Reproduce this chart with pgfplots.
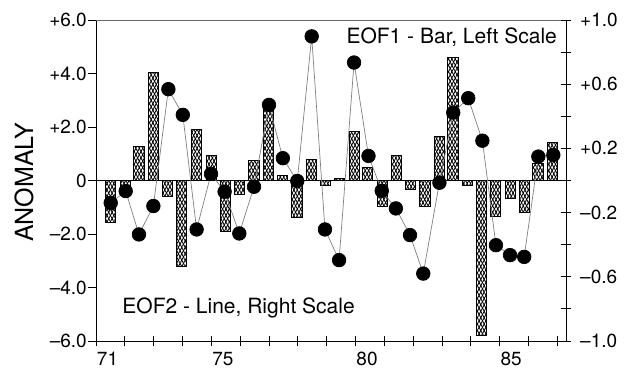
\documentclass[border=0pt]{standalone}
\usepackage{fontspec}
\setmainfont{TeX Gyre Heros}
\usepackage{pgfplots}
\usepackage{pgfplotstable}
\pgfplotsset{compat=1.18}
\usetikzlibrary{patterns.meta}

% EOF1 (bars, left scale)
\pgfplotstableread{
x y
71.11 -1.58
71.61 -0.35
72.09 1.26
72.58 4.03
73.09 -0.60
73.58 -3.22
74.09 1.89
74.59 0.92
75.10 -1.89
75.59 -0.54
76.08 0.74
76.57 2.70
77.07 0.20
77.57 -1.38
78.06 0.79
78.56 -0.17
79.06 0.08
79.55 1.85
80.03 0.50
80.54 -0.98
81.03 0.92
81.52 -0.32
82.01 -0.98
82.50 1.66
82.98 4.60
83.47 -0.17
83.97 -5.81
84.46 -1.33
84.96 -0.69
85.45 -1.19
85.93 0.64
86.44 1.41
}\bardata

% EOF2 (line, right scale)
\pgfplotstableread{
x y
71.11 -0.140
71.63 -0.066
72.09 -0.336
72.59 -0.159
73.11 0.569
73.61 0.409
74.09 -0.305
74.59 0.041
75.06 -0.070
75.57 -0.330
76.08 -0.039
76.60 0.471
77.08 0.139
77.58 -0.003
78.08 0.898
78.54 -0.305
79.03 -0.496
79.55 0.735
80.05 0.153
80.51 -0.064
81.00 -0.174
81.49 -0.340
81.95 -0.580
82.51 -0.014
82.99 0.423
83.51 0.513
84.00 0.248
84.47 -0.403
84.96 -0.465
85.45 -0.476
85.94 0.149
86.46 0.159
}\linedata

\begin{document}
\begin{tikzpicture}
\path[use as bounding box] (-96bp,-31bp) rectangle (540bp,341bp);
\begin{axis}[
  at={(0,0)}, anchor=south west,
  scale only axis, width=470bp, height=321bp,
  xmin=70.6, xmax=86.9, ymin=-6, ymax=6,
  axis x line=none, axis y line*=left,
  clip=false,
  tick align=outside, major tick length=8bp,
  ytick={-6,-4,-2,0,2,4,6},
  yticklabels={--6.0,--4.0,--2.0,0,+2.0,+4.0,+6.0},
  y tick label style={font=\fontsize{19bp}{22bp}\selectfont, inner sep=1bp},
  axis line style={line width=0.9bp},
  every tick/.style={black, line width=0.8bp},
]
\addplot[ybar, bar width=0.35, draw=black, line width=1bp,
  pattern={Lines[angle=62,distance=3bp,line width=0.85bp]},
  postaction={pattern={Lines[angle=-62,distance=3bp,line width=0.85bp]}}]
  table[x=x,y=y] {\bardata};
\draw[line width=0.9bp] (axis cs:70.6,0) -- (axis cs:86.9,0);
\draw[black!60, line width=0.9bp] (rel axis cs:0,1) -- (rel axis cs:1,1);
\node[anchor=base east, inner sep=0pt, font=\fontsize{21bp}{24bp}\selectfont]
  at (axis cs:86.59,5.13) {EOF1 - Bar, Left Scale};
\node[anchor=base west, inner sep=0pt, font=\fontsize{21bp}{24bp}\selectfont]
  at (axis cs:71.51,-4.96) {EOF2 - Line, Right Scale};
\node[rotate=90, anchor=center, inner sep=0pt, font=\fontsize{25bp}{28bp}\selectfont]
  at (rel axis cs:-0.153,0.495) {ANOMALY};
\end{axis}
\begin{axis}[
  at={(0,0)}, anchor=south west,
  scale only axis, width=470bp, height=321bp,
  xmin=70.6, xmax=86.9, ymin=-1, ymax=1,
  axis x line*=bottom, axis y line*=right,
  clip=false,
  tick align=center, major tick length=10bp,
  xtick={70.6,71.6,72.6,73.6,74.6,75.6,76.6,77.6,78.6,79.6,80.6,81.6,82.6,83.6,84.6,85.6,86.6},
  xticklabels={,71,,,,75,,,,,80,,,,,85,},
  x tick label style={font=\fontsize{19bp}{22bp}\selectfont, inner sep=0pt, anchor=north, xshift=-17.3bp, yshift=-6bp},
  ytick={-1,-0.8,-0.6,-0.4,-0.2,0,0.2,0.4,0.6,0.8,1},
  yticklabels={--1.0,,--0.6,,--0.2,,+0.2,,+0.6,,+1.0},
  y tick label style={font=\fontsize{19bp}{22bp}\selectfont, inner sep=0pt, anchor=west, xshift=9bp},
  axis line style={line width=0.9bp},
  every tick/.style={black, line width=0.8bp},
]
\addplot[draw=black!50, line width=0.7bp, mark=*, mark size=6.8bp,
  mark options={fill=black, draw=black, solid}]
  table[x=x,y=y] {\linedata};
\end{axis}
\end{tikzpicture}
\end{document}
